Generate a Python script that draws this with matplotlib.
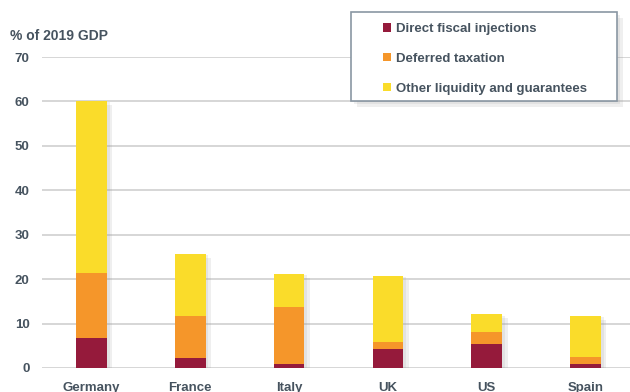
import matplotlib
matplotlib.use("Agg")
import matplotlib.pyplot as plt
import matplotlib.patheffects as pe
from matplotlib.patches import Rectangle, Patch
import numpy as np

# data
countries = ['Germany', 'France', 'Italy', 'UK', 'US', 'Spain']
direct = [6.8, 2.3, 0.9, 4.35, 5.5, 1.0]
deferred = [14.6, 9.5, 12.9, 1.5, 2.6, 1.55]
other = [38.7, 13.9, 7.4, 14.85, 4.0, 9.15]
series_names = ['Direct fiscal injections', 'Deferred taxation', 'Other liquidity and guarantees']
colors = ['#951a3b', '#f5962a', '#fadc2a']

txt_col = '#46535f'
plt.rcParams['font.family'] = ['Liberation Sans', 'DejaVu Sans']
plt.rcParams['font.weight'] = 'bold'

fig = plt.figure(figsize=(6.3, 3.92), dpi=100)
ax = fig.add_axes([42 / 630, 24 / 392, 1 - 42 / 630, 311 / 392])

x = np.arange(len(countries))
w = 0.31

bottom = np.zeros(len(countries))
for vals, c, name in zip([direct, deferred, other], colors, series_names):
    ax.bar(x, vals, w, bottom=bottom, color=c, label=name, zorder=3)
    bottom = bottom + np.array(vals)

# soft shadow behind whole stacked bar
for xi, tot in zip(x, bottom):
    r = Rectangle((xi - w / 2, 0), w, tot, facecolor='white', zorder=2.5,
                  path_effects=[pe.SimplePatchShadow(offset=(4, -3), shadow_rgbFace='#999999', alpha=0.15),
                                pe.SimplePatchShadow(offset=(2, -1), shadow_rgbFace='#999999', alpha=0.15),
                                pe.Normal()])
    ax.add_patch(r)

ax.set_xlim(-0.5, 5.45)
ax.set_ylim(0, 70)
ax.set_yticks(range(0, 71, 10))
ax.set_xticks(x)
ax.set_xticklabels(countries)
ax.yaxis.grid(True, color='#d0d0d0', linewidth=1.2, zorder=0)
ax.set_axisbelow(True)
for s in ax.spines.values():
    s.set_visible(False)
ax.tick_params(axis='both', length=0, labelsize=9.5, colors=txt_col)
ax.tick_params(axis='y', pad=9)
ax.tick_params(axis='x', pad=10)

fig.text(10 / 630, 1 - 40 / 392, '% of 2019 GDP', fontsize=10, color=txt_col,
         fontweight='bold', va='baseline', ha='left')

# legend box
box = Rectangle((351 / 630, 1 - 101 / 392), 266 / 630, 89 / 392, transform=fig.transFigure,
                facecolor='white', edgecolor='#8a97a3', linewidth=1.2, zorder=5,
                path_effects=[pe.SimplePatchShadow(offset=(4, -4), shadow_rgbFace='#999999', alpha=0.15),
                              pe.SimplePatchShadow(offset=(2, -2), shadow_rgbFace='#999999', alpha=0.15),
                              pe.Normal()])
fig.patches.append(box)

handles = [Patch(facecolor=c, edgecolor='none') for c in colors]
leg = fig.legend(handles, series_names, loc='upper left', bbox_to_anchor=(383 / 630, 1 - 23 / 392),
                 frameon=False, fontsize=9.5, handlelength=0.6, handleheight=0.6,
                 handletextpad=0.35, labelspacing=1.35, borderpad=0, borderaxespad=0)
for t in leg.get_texts():
    t.set_color(txt_col)
leg.set_zorder(6)

fig.savefig('out.png', dpi=100)
